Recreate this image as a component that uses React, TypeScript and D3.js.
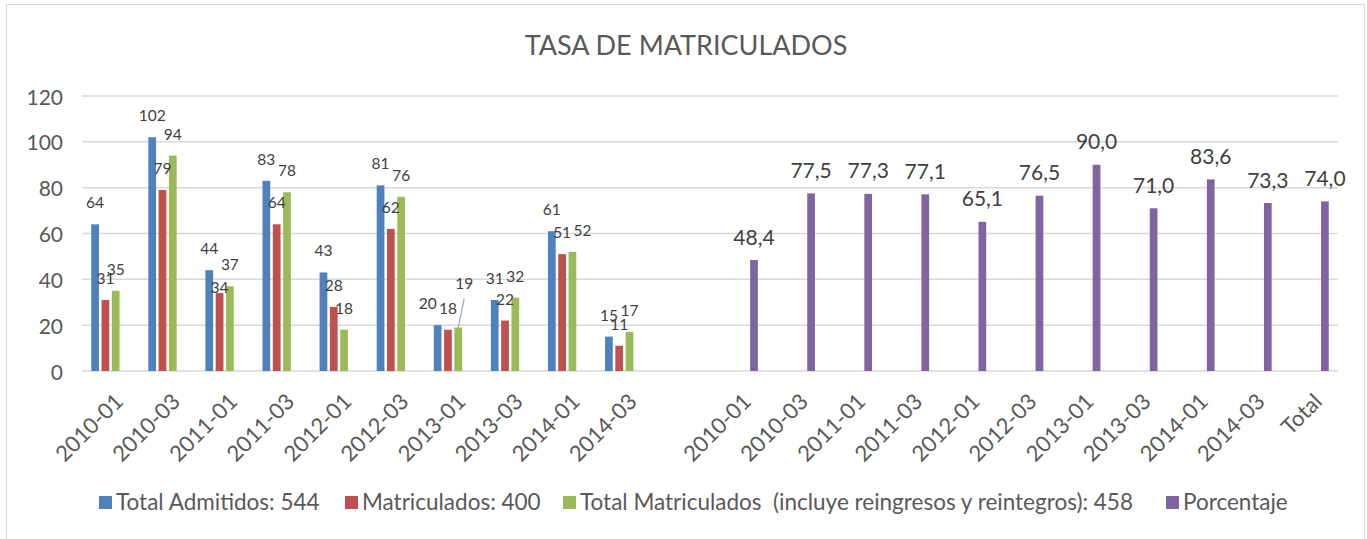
import React from 'react';
import * as d3 from 'd3';

// ---- Data ----
const periods = ['2010-01', '2010-03', '2011-01', '2011-03', '2012-01', '2012-03', '2013-01', '2013-03', '2014-01', '2014-03'];
const rightCategories = [...periods, 'Total'];
const totalAdmitidos = [64, 102, 44, 83, 43, 81, 20, 31, 61, 15];
const matriculados = [31, 79, 34, 64, 28, 62, 18, 22, 51, 11];
const totalMatriculados = [35, 94, 37, 78, 18, 76, 19, 32, 52, 17];
const porcentaje = [48.4, 77.5, 77.3, 77.1, 65.1, 76.5, 90.0, 71.0, 83.6, 73.3, 74.0];
const yTicks = [0, 20, 40, 60, 80, 100, 120];
const seriesNames = [
  'Total Admitidos: 544',
  'Matriculados: 400',
  'Total Matriculados  (incluye reingresos y reintegros): 458',
  'Porcentaje',
];
const title = 'TASA DE MATRICULADOS';

// ---- Styles / layout ----
const colors = ['#4F81BD', '#C0504D', '#9BBB59', '#8064A2'];
const FONT = 'Lato, "Open Sans", sans-serif';
const axisColor = '#595959';
const labelColor = '#404040';
const gridColor = '#D9D9D9';

const W = 1367;
const H = 539;
const plotLeft = 82;
const plotRight = 1338;
const yZero = 371;
const yTop = 96;

// legend layout (square x)
const legendX = [99, 345, 563, 1166];

// manual label nudges (series-index -> [dx, dy]) as in the original chart
const labelNudges: Record<string, [number, number]> = {
  '1-2': [0, 16],
  '0-6': [-10, 0],
  '2-8': [10, 0],
};

export default function App() {
  const leftKeys = periods.map((_, i) => `L${i}`);
  const rightKeys = rightCategories.map((_, i) => `R${i}`);
  const domain = [...leftKeys, 'gap', ...rightKeys];

  const x = d3.scaleBand<string>().domain(domain).range([plotLeft, plotRight]).padding(0);
  const inner = d3
    .scaleBand<number>()
    .domain([0, 1, 2, 3])
    .range([0, x.bandwidth()])
    .paddingInner(0.25)
    .paddingOuter(0.896);
  const y = d3.scaleLinear().domain([0, 120]).range([yZero, yTop]);

  const leftSeries = [totalAdmitidos, matriculados, totalMatriculados];

  const fmtPct = (v: number) => v.toFixed(1).replace('.', ',');

  const bars: React.ReactNode[] = [];
  const labels: React.ReactNode[] = [];

  leftSeries.forEach((vals, s) => {
    vals.forEach((v, i) => {
      const bx = (x(leftKeys[i]) as number) + (inner(s) as number);
      const bw = inner.bandwidth();
      bars.push(
        <rect key={`b${s}-${i}`} x={bx} y={y(v)} width={bw} height={yZero - y(v)} fill={colors[s]} />
      );
      const cx = bx + bw / 2;
      if (s === 2 && i === 6) {
        // label moved up with a leader line
        labels.push(
          <g key={`l${s}-${i}`}>
            <line x1={cx} y1={y(v)} x2={cx + 6} y2={y(v) - 29} stroke="#A6A6A6" strokeWidth={1.2} />
            <text x={cx + 6} y={y(v) - 44} textAnchor="middle" dominantBaseline="central" fontSize={15.5} fill={labelColor} fontFamily={FONT}>
              {v}
            </text>
          </g>
        );
      } else {
        const [dx, dy] = labelNudges[`${s}-${i}`] || [0, 0];
        labels.push(
          <text key={`l${s}-${i}`} x={cx + dx} y={y(v) - 22 + dy} textAnchor="middle" dominantBaseline="central" fontSize={15.5} fill={labelColor} fontFamily={FONT}>
            {v}
          </text>
        );
      }
    });
  });

  porcentaje.forEach((v, i) => {
    const bx = (x(rightKeys[i]) as number) + (inner(3) as number);
    const bw = inner.bandwidth();
    bars.push(<rect key={`p${i}`} x={bx} y={y(v)} width={bw} height={yZero - y(v)} fill={colors[3]} />);
    labels.push(
      <text key={`pl${i}`} x={bx + bw / 2} y={y(v) - 24} textAnchor="middle" dominantBaseline="central" fontSize={21} fill={labelColor} fontFamily={FONT}>
        {fmtPct(v)}
      </text>
    );
  });

  const xLabels = [
    ...periods.map((p, i) => ({ key: leftKeys[i], text: p })),
    ...rightCategories.map((p, i) => ({ key: rightKeys[i], text: p })),
  ];

  return (
    <svg
      width={W}
      height={H}
      style={{ position: 'absolute', left: 0, top: 0, display: 'block', background: '#fff' }}
      fontFamily={FONT}
    >
      <rect x={0} y={0} width={W} height={H} fill="#fff" />
      <rect x={6.5} y={4.5} width={1358} height={560} fill="#fff" stroke={gridColor} strokeWidth={1} />

      <text x={686} y={55} textAnchor="middle" fontSize={27} fill={axisColor}>
        {title}
      </text>

      {yTicks.map((t) => (
        <g key={`g${t}`}>
          <line x1={plotLeft} x2={plotRight} y1={y(t)} y2={y(t)} stroke={gridColor} strokeWidth={1.5} />
          <text x={63} y={y(t)} textAnchor="end" dominantBaseline="central" fontSize={21} fill={axisColor}>
            {t}
          </text>
        </g>
      ))}

      {bars}
      {labels}

      {xLabels.map((d) => {
        const cx = (x(d.key) as number) + x.bandwidth() / 2;
        return (
          <text
            key={`x${d.key}`}
            transform={`translate(${cx + 14},${403}) rotate(-45)`}
            textAnchor="end"
            fontSize={22}
            fill={axisColor}
          >
            {d.text}
          </text>
        );
      })}

      {seriesNames.map((name, i) => (
        <g key={`lg${i}`}>
          <rect x={legendX[i]} y={496} width={13} height={13} fill={colors[i]} />
          <text x={legendX[i] + 17} y={510} fontSize={22.5} fill={axisColor} style={{ whiteSpace: 'pre' }}>
            {name}
          </text>
        </g>
      ))}
    </svg>
  );
}
